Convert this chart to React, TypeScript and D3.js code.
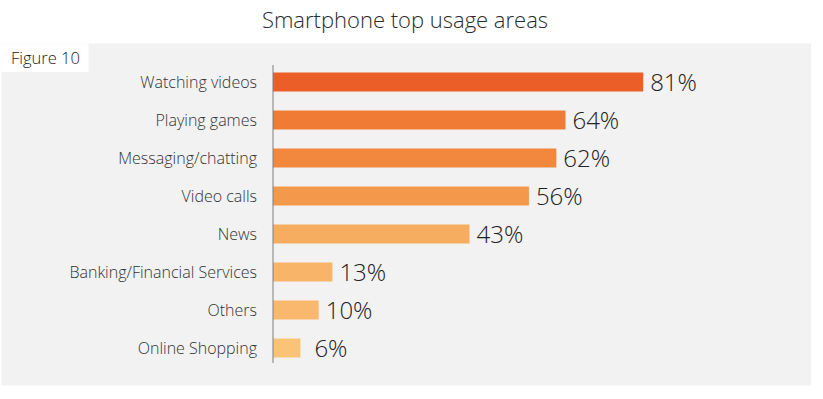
import React, { useRef, useEffect } from 'react';
import * as d3 from 'd3';

const categories = [
  'Watching videos',
  'Playing games',
  'Messaging/chatting',
  'Video calls',
  'News',
  'Banking/Financial Services',
  'Others',
  'Online Shopping',
];
const values = [81, 64, 62, 56, 43, 13, 10, 6];
const barColors = ['#eb5e27', '#f07b34', '#f2883d', '#f4994c', '#f6ad5f', '#f8b468', '#f9b86d', '#fbc376'];

const App = () => {
  const svgRef = useRef<SVGSVGElement>(null);

  useEffect(() => {
    const svg = d3.select(svgRef.current);
    svg.selectAll('*').remove();

    const width = 823;
    const height = 399;
    const font = '"Open Sans", Lato, sans-serif';

    svg.attr('width', width).attr('height', height);

    // panel background
    svg.append('rect').attr('x', 1.5).attr('y', 43.5).attr('width', 809.5).attr('height', 342).attr('fill', '#f2f2f2');

    // figure tag
    svg.append('rect').attr('x', 1.5).attr('y', 43.5).attr('width', 87).attr('height', 28.5).attr('fill', '#ffffff');
    svg
      .append('text')
      .attr('x', 11)
      .attr('y', 64)
      .text('Figure 10')
      .style('font-family', font)
      .style('font-weight', 300)
      .style('font-size', '16.5px')
      .attr('fill', '#1a1a1a');

    // title
    svg
      .append('text')
      .attr('x', 405)
      .attr('y', 28)
      .attr('text-anchor', 'middle')
      .text('Smartphone top usage areas')
      .style('font-family', font)
      .style('font-weight', 300)
      .style('font-size', '22px')
      .attr('fill', '#2b2b2b');

    const x0 = 273;
    const xScale = d3.scaleLinear().domain([0, 100]).range([x0, x0 + 457]);
    const yScale = d3
      .scaleBand()
      .domain(categories)
      .range([63, 367])
      .paddingInner(0.5)
      .paddingOuter(0.25);

    // bars
    svg
      .selectAll('.bar')
      .data(values)
      .enter()
      .append('rect')
      .attr('x', xScale(0))
      .attr('y', (_, i) => yScale(categories[i]))
      .attr('width', (d) => xScale(d) - xScale(0))
      .attr('height', yScale.bandwidth())
      .attr('fill', (_, i) => barColors[i]);

    // axis line
    svg
      .append('line')
      .attr('x1', x0)
      .attr('x2', x0)
      .attr('y1', 65)
      .attr('y2', 363)
      .attr('stroke', '#7f7f7f')
      .attr('stroke-width', 1);

    // category labels
    svg
      .selectAll('.cat')
      .data(categories)
      .enter()
      .append('text')
      .attr('x', 257)
      .attr('y', (d) => yScale(d) + yScale.bandwidth() / 2)
      .attr('dy', '0.35em')
      .attr('text-anchor', 'end')
      .text((d) => d)
      .style('font-family', font)
      .style('font-weight', 300)
      .style('font-size', '16px')
      .attr('fill', '#333333');

    // value labels
    svg
      .selectAll('.val')
      .data(values)
      .enter()
      .append('text')
      .attr('x', (d) => xScale(d) + (d < 10 ? 14 : 7))
      .attr('y', (_, i) => yScale(categories[i]) + yScale.bandwidth() / 2)
      .attr('dy', '0.36em')
      .text((d) => `${d}%`)
      .style('font-family', font)
      .style('font-weight', 300)
      .style('font-size', '24px')
      .attr('fill', '#222222');
  }, []);

  return <svg ref={svgRef} style={{ position: 'absolute', left: 0, top: 0 }} />;
};

export default App;
